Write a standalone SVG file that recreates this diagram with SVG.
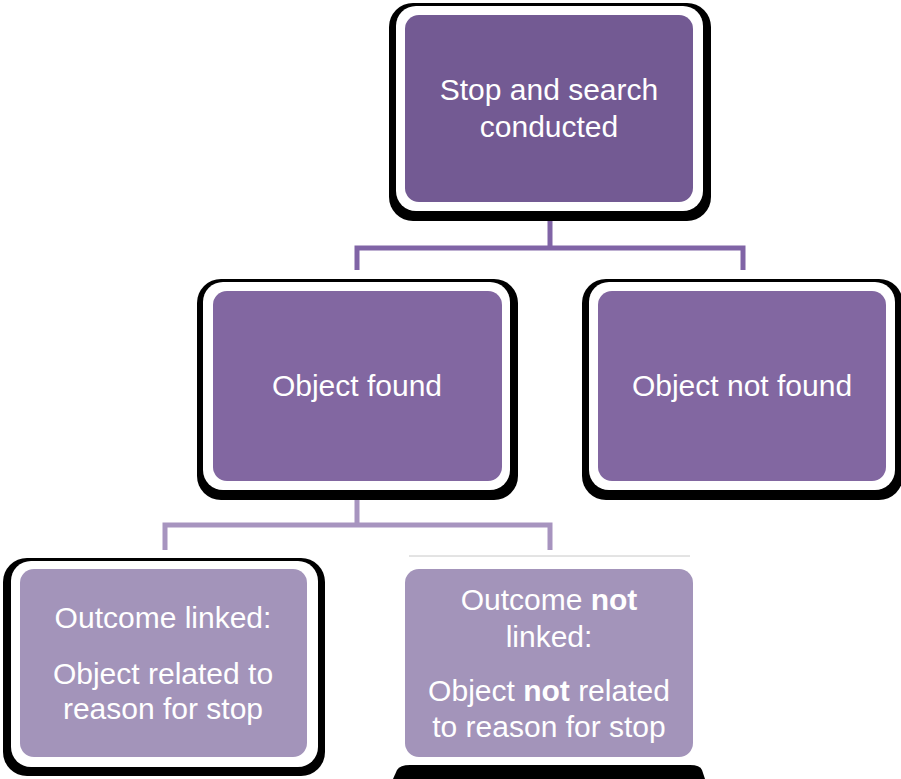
<svg xmlns="http://www.w3.org/2000/svg" width="901" height="779" viewBox="0 0 901 779">
<style>
.sh{fill:#000}
.wb{fill:#fff}
.t{font-family:"Liberation Sans",Arial,sans-serif;font-size:30px;fill:#fff;text-anchor:middle}
.b{font-weight:bold}
.c1{fill:none;stroke:#8064a6;stroke-width:5}
.c2{fill:none;stroke:#a794bf;stroke-width:5}
</style>
<rect width="901" height="779" fill="#fff"/>
<g id="connectors">
<path class="c1" d="M550,208 V248 M357,270 V248 H743 V270"/>
<path class="c2" d="M357,488 V525 M165,550 V525 H550 V550"/>
<line x1="409" y1="556" x2="690" y2="556" stroke="#c8c8c8" stroke-width="1"/>
</g>
<g id="n1">
<rect class="sh" x="389" y="3" width="322" height="218" rx="24"/>
<rect class="wb" x="396" y="6" width="307" height="205" rx="20"/>
<rect x="405" y="15" width="288" height="187" rx="14" fill="#735a93"/>
<text class="t" x="549" y="100">Stop and search</text>
<text class="t" x="549" y="137">conducted</text>
</g>
<g id="n2">
<rect class="sh" x="197" y="279" width="321" height="221" rx="24"/>
<rect class="wb" x="203" y="282" width="307" height="208" rx="20"/>
<rect x="213" y="291" width="289" height="190" rx="14" fill="#8267a1"/>
<text class="t" x="357" y="396">Object found</text>
</g>
<g id="n3">
<rect class="sh" x="582" y="279" width="321" height="221" rx="24"/>
<rect class="wb" x="589" y="282" width="306" height="208" rx="20"/>
<rect x="598" y="291" width="288" height="190" rx="14" fill="#8267a1"/>
<text class="t" x="742" y="396">Object not found</text>
</g>
<g id="n4">
<rect class="sh" x="3" y="558" width="322" height="218" rx="24"/>
<rect class="wb" x="11" y="561" width="307" height="206" rx="20"/>
<rect x="20" y="569" width="287" height="188" rx="14" fill="#a394ba"/>
<text class="t" x="163" y="628">Outcome linked:</text>
<text class="t" x="163" y="684">Object related to</text>
<text class="t" x="163" y="719">reason for stop</text>
</g>
<g id="n5">
<path class="sh" d="M393,779 L397,770 Q400,765 410,765 H690 Q700,765 702,770 L705,779 Z"/>
<rect x="405" y="569" width="288" height="188" rx="14" fill="#a394ba"/>
<text class="t" x="549" y="610">Outcome <tspan class="b">not</tspan></text>
<text class="t" x="549" y="647">linked:</text>
<text class="t" x="549" y="701">Object <tspan class="b">not</tspan> related</text>
<text class="t" x="549" y="737">to reason for stop</text>
</g>
</svg>
